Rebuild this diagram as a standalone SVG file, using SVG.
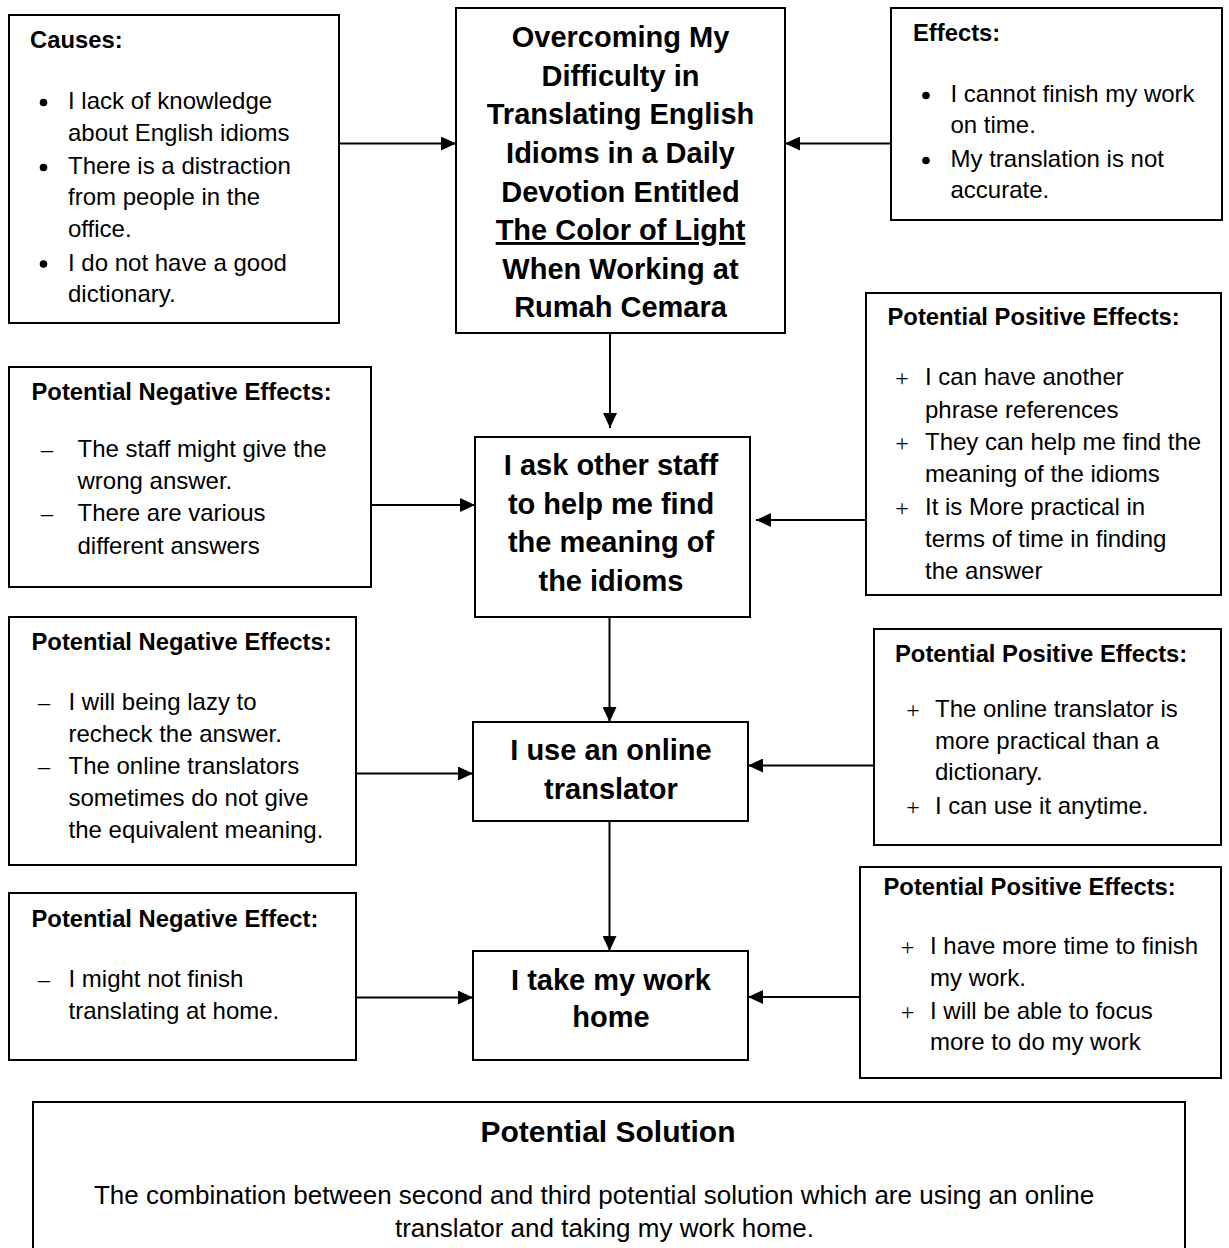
<svg xmlns="http://www.w3.org/2000/svg" width="1229" height="1248" viewBox="0 0 1229 1248">
<style>
.box{fill:#fff;stroke:#000;stroke-width:2}
text{font-family:"Liberation Sans",Arial,sans-serif;fill:#000}
.h{font-size:23.8px;font-weight:bold}
.b{font-size:24px}
.n{font-size:29px;font-weight:bold;text-anchor:middle}
.sym{font-family:"Liberation Serif","Times New Roman",serif;font-size:24px}
.dot{fill:#000}
.conn line{stroke:#000;stroke-width:2;marker-end:url(#ah)}
</style>
<defs>
<marker id="ah" markerUnits="userSpaceOnUse" markerWidth="16" markerHeight="14" refX="15" refY="7" orient="auto">
<path d="M0,0 L15,7 L0,14 z" fill="#000"/>
</marker>
</defs>
<rect width="1229" height="1248" fill="#fff"/>

<g id="causes">
<rect class="box" x="9" y="15" width="330" height="308"/>
<text class="h" x="30" y="48">Causes:</text>
<circle class="dot" cx="43.5" cy="102.5" r="3.8"/>
<circle class="dot" cx="43.5" cy="167.5" r="3.8"/>
<circle class="dot" cx="43.5" cy="264" r="3.8"/>
<text class="b" x="68" y="109">I lack of knowledge</text>
<text class="b" x="68" y="141">about English idioms</text>
<text class="b" x="68" y="174">There is a distraction</text>
<text class="b" x="68" y="205">from people in the</text>
<text class="b" x="68" y="237">office.</text>
<text class="b" x="68" y="270.5">I do not have a good</text>
<text class="b" x="68" y="302">dictionary.</text>
</g>

<g id="title">
<rect class="box" x="456" y="8" width="329" height="325"/>
<text class="n" x="620.5" y="47">Overcoming My</text>
<text class="n" x="620.5" y="85.5">Difficulty in</text>
<text class="n" x="620.5" y="124">Translating English</text>
<text class="n" x="620.5" y="163">Idioms in a Daily</text>
<text class="n" x="620.5" y="201.5">Devotion Entitled</text>
<text class="n" x="620.5" y="240" text-decoration="underline">The Color of Light</text>
<text class="n" x="620.5" y="279">When Working at</text>
<text class="n" x="620.5" y="317">Rumah Cemara</text>
</g>

<g id="effects">
<rect class="box" x="891" y="8" width="331" height="212"/>
<text class="h" x="913" y="41">Effects:</text>
<circle class="dot" cx="926" cy="95.5" r="3.8"/>
<circle class="dot" cx="926" cy="160.5" r="3.8"/>
<text class="b" x="950.5" y="102">I cannot finish my work</text>
<text class="b" x="950.5" y="133">on time.</text>
<text class="b" x="950.5" y="166.5">My translation is not</text>
<text class="b" x="950.5" y="198">accurate.</text>
</g>

<g id="neg1">
<rect class="box" x="9" y="367" width="362" height="220"/>
<text class="h" x="31.5" y="399.5">Potential Negative Effects:</text>
<text class="sym" x="47" y="457" text-anchor="middle">–</text>
<text class="sym" x="47" y="521" text-anchor="middle">–</text>
<text class="b" x="77.5" y="457">The staff might give the</text>
<text class="b" x="77.5" y="488.5">wrong answer.</text>
<text class="b" x="77.5" y="521">There are various</text>
<text class="b" x="77.5" y="553.5">different answers</text>
</g>

<g id="ask">
<rect class="box" x="475" y="437" width="275" height="180"/>
<text class="n" x="611" y="475">I ask other staff</text>
<text class="n" x="611" y="513.5">to help me find</text>
<text class="n" x="611" y="552">the meaning of</text>
<text class="n" x="611" y="590.5">the idioms</text>
</g>

<g id="pos1">
<rect class="box" x="866" y="293" width="355" height="302"/>
<text class="h" x="887.5" y="324.5">Potential Positive Effects:</text>
<text class="sym" x="902" y="386" text-anchor="middle">+</text>
<text class="sym" x="902" y="451" text-anchor="middle">+</text>
<text class="sym" x="902" y="516" text-anchor="middle">+</text>
<text class="b" x="925" y="385">I can have another</text>
<text class="b" x="925" y="417.5">phrase references</text>
<text class="b" x="925" y="450">They can help me find the</text>
<text class="b" x="925" y="482">meaning of the idioms</text>
<text class="b" x="925" y="515">It is More practical in</text>
<text class="b" x="925" y="547">terms of time in finding</text>
<text class="b" x="925" y="578.5">the answer</text>
</g>

<g id="neg2">
<rect class="box" x="9" y="617" width="347" height="248"/>
<text class="h" x="31.5" y="650">Potential Negative Effects:</text>
<text class="sym" x="44" y="710" text-anchor="middle">–</text>
<text class="sym" x="44" y="773.5" text-anchor="middle">–</text>
<text class="b" x="68.5" y="710">I will being lazy to</text>
<text class="b" x="68.5" y="742">recheck the answer.</text>
<text class="b" x="68.5" y="773.5">The online translators</text>
<text class="b" x="68.5" y="806">sometimes do not give</text>
<text class="b" x="68.5" y="837.5">the equivalent meaning.</text>
</g>

<g id="online">
<rect class="box" x="473" y="722" width="275" height="99"/>
<text class="n" x="611" y="759.5">I use an online</text>
<text class="n" x="611" y="798.5">translator</text>
</g>

<g id="pos2">
<rect class="box" x="874" y="629" width="347" height="216"/>
<text class="h" x="895" y="662">Potential Positive Effects:</text>
<text class="sym" x="913" y="718" text-anchor="middle">+</text>
<text class="sym" x="913" y="814.5" text-anchor="middle">+</text>
<text class="b" x="935" y="717">The online translator is</text>
<text class="b" x="935" y="748.5">more practical than a</text>
<text class="b" x="935" y="780">dictionary.</text>
<text class="b" x="935" y="813.5">I can use it anytime.</text>
</g>

<g id="neg3">
<rect class="box" x="9" y="893" width="347" height="167"/>
<text class="h" x="31.5" y="927">Potential Negative Effect:</text>
<text class="sym" x="44" y="987" text-anchor="middle">–</text>
<text class="b" x="68.5" y="987">I might not finish</text>
<text class="b" x="68.5" y="1018.5">translating at home.</text>
</g>

<g id="home">
<rect class="box" x="473" y="951" width="275" height="109"/>
<text class="n" x="611" y="989.5">I take my work</text>
<text class="n" x="611" y="1027">home</text>
</g>

<g id="pos3">
<rect class="box" x="860" y="867" width="361" height="211"/>
<text class="h" x="883.5" y="895">Potential Positive Effects:</text>
<text class="sym" x="907.5" y="954.5" text-anchor="middle">+</text>
<text class="sym" x="907.5" y="1019.5" text-anchor="middle">+</text>
<text class="b" x="930" y="953.5">I have more time to finish</text>
<text class="b" x="930" y="986">my work.</text>
<text class="b" x="930" y="1018.5">I will be able to focus</text>
<text class="b" x="930" y="1050">more to do my work</text>
</g>

<g id="solution">
<rect class="box" x="33" y="1102" width="1152" height="170"/>
<text x="608" y="1142" text-anchor="middle" font-size="30" font-weight="bold">Potential Solution</text>
<text x="594" y="1204" text-anchor="middle" font-size="26">The combination between second and third potential solution which are using an online</text>
<text x="604.5" y="1237" text-anchor="middle" font-size="26">translator and taking my work home.</text>
</g>

<g class="conn">
<line x1="339" y1="143.5" x2="456" y2="143.5"/>
<line x1="891" y1="143.5" x2="785" y2="143.5"/>
<line x1="610" y1="333" x2="610" y2="428"/>
<line x1="371" y1="505" x2="475" y2="505"/>
<line x1="866" y1="520" x2="756" y2="520"/>
<line x1="609.5" y1="617" x2="609.5" y2="722"/>
<line x1="356" y1="773.5" x2="473" y2="773.5"/>
<line x1="874" y1="765.5" x2="748" y2="765.5"/>
<line x1="609.5" y1="821" x2="609.5" y2="951"/>
<line x1="356" y1="997.5" x2="473" y2="997.5"/>
<line x1="860" y1="997" x2="748" y2="997"/>
</g>
</svg>
